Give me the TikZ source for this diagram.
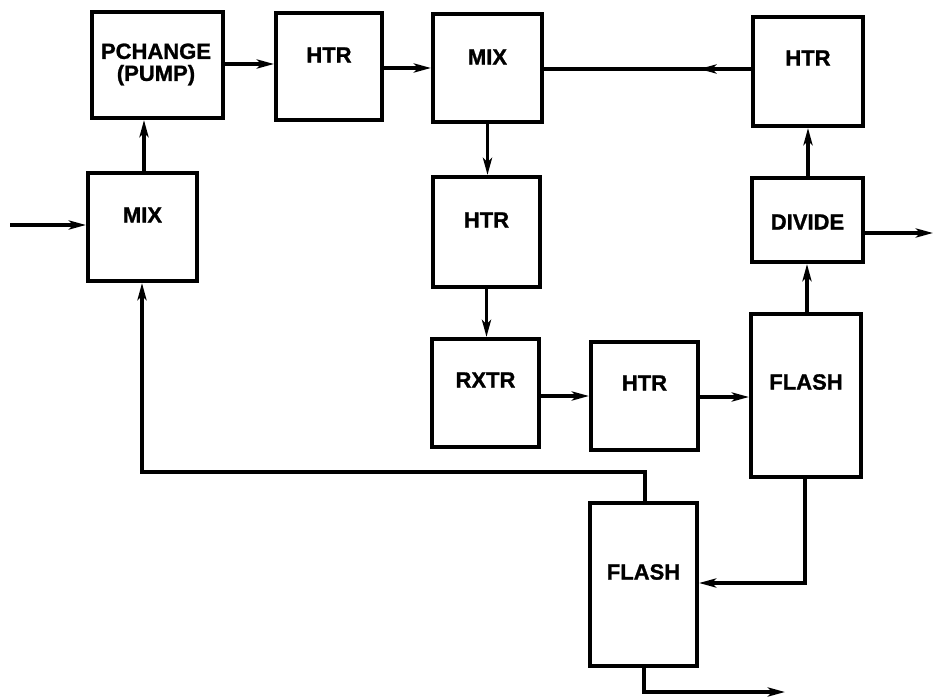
\documentclass[tikz,border=0pt]{standalone}
\usepackage{fontspec}
\setmainfont{Liberation Sans}
\newfontfamily\boxfont[FakeBold=1.2]{Liberation Sans Bold}
\usetikzlibrary{arrows.meta,decorations.markings}
\begin{document}
\begin{tikzpicture}[x=1pt,y=-1pt,
  box/.style={draw=black,line width=4pt,rectangle,inner sep=0pt,fill=white},
  lbl/.style={font=\fontsize{22}{23}\boxfont,inner sep=0pt,align=center},
  tip/.style={-{Stealth[length=17pt,width=9pt,inset=4pt]}},
  flow/.style={line width=4.5pt,tip},
  thinflow/.style={line width=3.5pt,tip},
  midarrow/.style={line width=3.8pt,postaction={decorate},decoration={markings,
     mark=at position 0.25 with {\arrow{Stealth[length=17pt,width=9pt,inset=4pt]}}}}
]
\useasboundingbox (0,0) rectangle (935,698);
% boxes
\node[box,minimum width=131pt,minimum height=106pt] (pchange) at (157.5,65) {};
\node[box,minimum width=106pt,minimum height=107pt] (htrA) at (329,66.5) {};
\node[box,minimum width=109pt,minimum height=108pt] (mixT) at (487.5,68) {};
\node[box,minimum width=110pt,minimum height=109pt] (htrB) at (808,71.5) {};
\node[box,minimum width=109pt,minimum height=108pt] (mixL) at (142.5,227) {};
\node[box,minimum width=107pt,minimum height=110pt] (htrC) at (486.5,232) {};
\node[box,minimum width=111pt,minimum height=84pt] (divide) at (807.5,220) {};
\node[box,minimum width=107pt,minimum height=108pt] (rxtr) at (485.5,393) {};
\node[box,minimum width=107pt,minimum height=108pt] (htrD) at (644.5,396) {};
\node[box,minimum width=110pt,minimum height=163pt] (flashA) at (806,395.5) {};
\node[box,minimum width=107pt,minimum height=163pt] (flashB) at (643.5,584.5) {};
% labels
\node[lbl] (pchange-t) at (156,64.5) {PCHANGE\\[-1pt](PUMP)};
\node[lbl] (htrA-t) at (329,55) {HTR};
\node[lbl] (mixT-t) at (487.5,57) {MIX};
\node[lbl] (htrB-t) at (808,58) {HTR};
\node[lbl] (mixL-t) at (142.5,215) {MIX};
\node[lbl] (htrC-t) at (486.5,220) {HTR};
\node[lbl] (divide-t) at (807.5,222) {DIVIDE};
\node[lbl] (rxtr-t) at (485.5,380) {RXTR};
\node[lbl] (htrD-t) at (644.5,383) {HTR};
\node[lbl] (flashA-t) at (806,382) {FLASH};
\node[lbl] (flashB-t) at (643.5,572) {FLASH};
% free ends
\coordinate (feed) at (10,225);
\coordinate (outD) at (933,233);
\coordinate (outB) at (785,692);
% connectors
\draw[flow] (feed) -- (feed -| mixL.west);
\draw[flow] (mixL.north -| 144,0) -- (pchange.south -| 144,0);
\draw[flow] (pchange.east |- 0,64) -- (htrA.west |- 0,64);
\draw[flow] (htrA.east |- 0,68) -- (mixT.west |- 0,68);
\draw[midarrow] (htrB.west |- 0,69) -- (mixT.east |- 0,69);
\draw[thinflow] (mixT.south) -- (htrC.north -| mixT.south);
\draw[thinflow] (htrC.south) -- (rxtr.north -| htrC.south);
\draw[flow] (rxtr.east |- 0,396) -- (htrD.west |- 0,396);
\draw[flow] (htrD.east |- 0,397) -- (flashA.west |- 0,397);
\draw[flow] (flashA.north -| 807,0) -- (divide.south -| 807,0);
\draw[flow] (divide.north -| 808,0) -- (htrB.south -| 808,0);
\draw[flow] (divide.east |- outD) -- (outD);
\draw[thinflow] (flashA.south -| 805,0) |- (flashB.east |- 0,583);
\draw[thinflow] (flashB.north -| 645,0) |- (142,472) -- (mixL.south -| 142,0);
\draw[thinflow] (flashB.south -| 644,0) |- (outB);
\end{tikzpicture}
\end{document}
